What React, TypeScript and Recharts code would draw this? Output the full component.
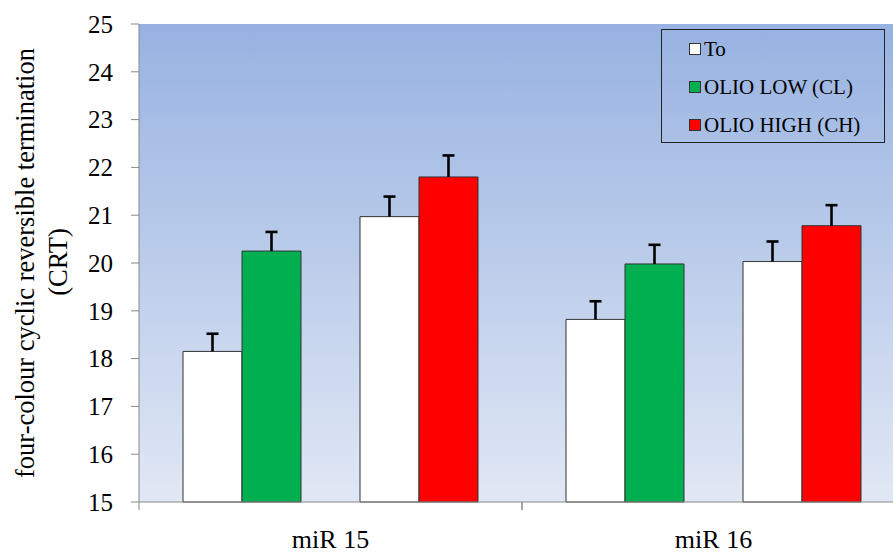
import React from 'react';
import { BarChart, Bar, XAxis, YAxis, CartesianGrid, LabelList, Label } from 'recharts';

const categories = ['miR 15', 'miR 16'];
const toFirst = [18.15, 18.82];
const toFirstErr = [0.37, 0.38];
const olioLow = [20.25, 19.98];
const olioLowErr = [0.4, 0.4];
const toSecond = [20.97, 20.03];
const toSecondErr = [0.42, 0.42];
const olioHigh = [21.8, 20.78];
const olioHighErr = [0.45, 0.43];
const yTicks = [15, 16, 17, 18, 19, 20, 21, 22, 23, 24, 25];
const Y_MIN = 15;

const legendItems = [
  { name: 'To', color: '#ffffff' },
  { name: 'OLIO LOW (CL)', color: '#00b050' },
  { name: 'OLIO HIGH (CH)', color: '#ff0000' },
];

const data = categories.map((name, i) => ({
  name,
  toA: toFirst[i],
  low: olioLow[i],
  toB: toSecond[i],
  high: olioHigh[i],
}));

const FONT = 'Times New Roman, Liberation Serif, serif';
const HALF_BAND = 191.5;

const CategoryTick = (props: any) => {
  const { x, y, payload } = props;
  return (
    <g>
      <line x1={x - HALF_BAND} x2={x - HALF_BAND} y1={y} y2={y + 8} stroke="#888" />
      <line x1={x + HALF_BAND} x2={x + HALF_BAND} y1={y} y2={y + 8} stroke="#888" />
      <text x={x} y={y + 46} textAnchor="middle" fontFamily={FONT} fontSize={26} fill="#000">
        {payload.value}
      </text>
    </g>
  );
};

const YTick = (props: any) => {
  const { x, y, payload } = props;
  return (
    <text x={x} y={y} dy="0.35em" textAnchor="end" fontFamily={FONT} fontSize={25} fill="#000">
      {payload.value}
    </text>
  );
};

// upper half error bar only: pixels per unit taken from the drawn bar
const makeErrorCap = (errs: number[]) => (props: any) => {
  const { x, y, width, height, value, index } = props;
  if (value == null || !height) return null;
  const len = (errs[index] * height) / (value - Y_MIN);
  const cx = x + width / 2;
  return (
    <g stroke="#000" strokeWidth={2.6}>
      <line x1={cx} x2={cx} y1={y} y2={y - len} />
      <line x1={cx - 6} x2={cx + 6} y1={y - len} y2={y - len} />
    </g>
  );
};

const YTitle = () => (
  <g fontFamily={FONT} fontSize={26.5} fill="#000">
    <text x={34} y={263} transform="rotate(-90 34 263)" textAnchor="middle">
      four-colour cyclic reversible termination
    </text>
    <text x={67} y={262} transform="rotate(-90 67 262)" textAnchor="middle">
      (CRT)
    </text>
  </g>
);

const LegendBox = () => (
  <div
    style={{
      position: 'absolute',
      left: 661,
      top: 29,
      border: '1.5px solid #222',
      width: 224,
      height: 114,
      fontFamily: FONT,
      fontSize: 21,
      color: '#000',
      boxSizing: 'border-box',
    }}
  >
    {legendItems.map(item => (
      <div key={item.name} style={{ display: 'flex', alignItems: 'center', height: 38, paddingLeft: 27 }}>
        <span
          style={{
            display: 'inline-block',
            width: 10,
            height: 10,
            background: item.color,
            border: '1px solid #333',
            marginRight: 3,
          }}
        />
        <span>{item.name}</span>
      </div>
    ))}
  </div>
);

const App: React.FC = () => (
  <div style={{ position: 'fixed', left: 0, top: 0, width: 893, height: 554, overflow: 'hidden', background: '#fff' }}>
    <BarChart
      width={910}
      height={554}
      data={data}
      margin={{ top: 24, right: 5, left: 0, bottom: 0 }}
      barSize={59}
      barGap={0}
    >
      <defs>
        <linearGradient id="plotBg" x1="0" y1="0" x2="0" y2="1">
          <stop offset="0%" stopColor="#97b2e1" />
          <stop offset="100%" stopColor="#e1e8f5" />
        </linearGradient>
      </defs>
      <CartesianGrid fill="url(#plotBg)" horizontal={false} vertical={false} />
      <XAxis
        dataKey="name"
        height={52}
        tickSize={0}
        tickMargin={0}
        tickLine={false}
        axisLine={{ stroke: '#888' }}
        tick={<CategoryTick />}
      />
      <YAxis
        width={139}
        domain={[15, 25]}
        ticks={yTicks}
        interval={0}
        tickSize={8}
        tickMargin={18}
        axisLine={{ stroke: '#888' }}
        tickLine={{ stroke: '#888' }}
        tick={<YTick />}
      >
        <Label content={<YTitle />} />
      </YAxis>
      <Bar dataKey="toA" fill="#ffffff" stroke="#333" isAnimationActive={false}>
        <LabelList dataKey="toA" content={makeErrorCap(toFirstErr)} />
      </Bar>
      <Bar dataKey="low" fill="#00b050" stroke="#333" isAnimationActive={false}>
        <LabelList dataKey="low" content={makeErrorCap(olioLowErr)} />
      </Bar>
      <Bar dataKey="gap" fill="none" stroke="none" legendType="none" isAnimationActive={false} />
      <Bar dataKey="toB" fill="#ffffff" stroke="#333" isAnimationActive={false}>
        <LabelList dataKey="toB" content={makeErrorCap(toSecondErr)} />
      </Bar>
      <Bar dataKey="high" fill="#ff0000" stroke="#333" isAnimationActive={false}>
        <LabelList dataKey="high" content={makeErrorCap(olioHighErr)} />
      </Bar>
    </BarChart>
    <LegendBox />
  </div>
);

export default App;
